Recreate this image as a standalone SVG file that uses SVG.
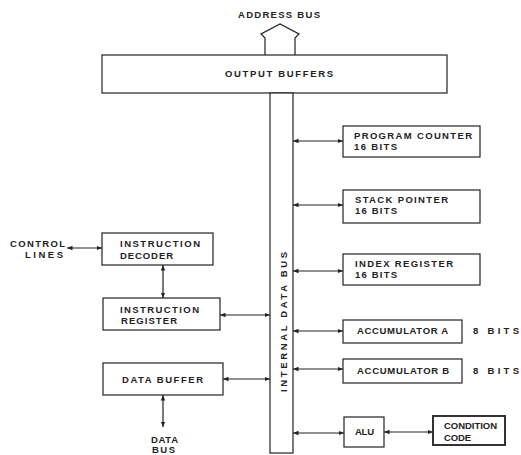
<svg xmlns="http://www.w3.org/2000/svg" width="521" height="455" viewBox="0 0 521 455">
<defs>
<marker id="ah" viewBox="0 0 10 10" refX="10" refY="5" markerWidth="5.5" markerHeight="5.5" orient="auto-start-reverse" markerUnits="userSpaceOnUse">
<path d="M0,1 L10,5 L0,9 Z" fill="#222"/>
</marker>
</defs>
<style>
.box{fill:#fff;stroke:#222;stroke-width:1.2}
.cc{fill:#fff;stroke:#333;stroke-width:2}
.ln{stroke:#222;stroke-width:1.2;fill:none;marker-start:url(#ah);marker-end:url(#ah)}
text{font-family:"Liberation Sans",Arial,sans-serif;font-size:9.5px;font-weight:bold;fill:#222}
</style>
<rect width="521" height="455" fill="#fff"/>
<g id="address-bus">
<path d="M265,55 V38 L261,34 L280,24 L299,34 L295,38 V55" class="box"/>
<text x="238" y="18" textLength="82" lengthAdjust="spacing">ADDRESS BUS</text>
</g>
<g id="output-buffers">
<rect x="102" y="55" width="345" height="38" class="box"/>
<text x="225" y="77" textLength="108" lengthAdjust="spacing">OUTPUT BUFFERS</text>
</g>
<g id="internal-data-bus">
<rect x="270" y="93" width="23" height="360" class="box"/>
<text transform="translate(287,322) rotate(-90)" text-anchor="middle" textLength="140" lengthAdjust="spacing">INTERNAL DATA BUS</text>
</g>
<g id="program-counter">
<rect x="343" y="126" width="137" height="31" class="box"/>
<text x="354" y="139" textLength="118" lengthAdjust="spacing">PROGRAM COUNTER</text>
<text x="354" y="150" textLength="43" lengthAdjust="spacing">16 BITS</text>
</g>
<g id="stack-pointer">
<rect x="343" y="190" width="137" height="33" class="box"/>
<text x="355" y="203" textLength="93" lengthAdjust="spacing">STACK POINTER</text>
<text x="355" y="214" textLength="42" lengthAdjust="spacing">16 BITS</text>
</g>
<g id="index-register">
<rect x="343" y="254" width="137" height="31" class="box"/>
<text x="355" y="267" textLength="98" lengthAdjust="spacing">INDEX REGISTER</text>
<text x="355" y="278" textLength="42" lengthAdjust="spacing">16 BITS</text>
</g>
<g id="accumulator-a">
<rect x="343" y="320" width="119" height="23" class="box"/>
<text x="357" y="334" textLength="91" lengthAdjust="spacing">ACCUMULATOR A</text>
<text x="473" y="334" textLength="46" lengthAdjust="spacing">8 BITS</text>
</g>
<g id="accumulator-b">
<rect x="343" y="359" width="119" height="24" class="box"/>
<text x="357" y="374" textLength="92" lengthAdjust="spacing">ACCUMULATOR B</text>
<text x="473" y="374" textLength="46" lengthAdjust="spacing">8 BITS</text>
</g>
<g id="alu">
<rect x="344" y="417" width="40" height="30" class="box"/>
<text x="355" y="435" textLength="19" lengthAdjust="spacing">ALU</text>
</g>
<g id="condition-code">
<rect x="433" y="416" width="72" height="29" class="cc"/>
<text x="444" y="429" textLength="53" lengthAdjust="spacing">CONDITION</text>
<text x="444" y="441" textLength="27" lengthAdjust="spacing">CODE</text>
</g>
<g id="control-lines">
<text x="10" y="247" textLength="55" lengthAdjust="spacing">CONTROL</text>
<text x="25" y="258" textLength="38" lengthAdjust="spacing">LINES</text>
</g>
<g id="instruction-decoder">
<rect x="102" y="233" width="111" height="32" class="box"/>
<text x="120" y="247" textLength="80" lengthAdjust="spacing">INSTRUCTION</text>
<text x="120" y="259" textLength="53" lengthAdjust="spacing">DECODER</text>
</g>
<g id="instruction-register">
<rect x="103" y="298" width="117" height="32" class="box"/>
<text x="120" y="313" textLength="79" lengthAdjust="spacing">INSTRUCTION</text>
<text x="121" y="324" textLength="56" lengthAdjust="spacing">REGISTER</text>
</g>
<g id="data-buffer">
<rect x="103" y="363" width="120" height="32" class="box"/>
<text x="122" y="383" textLength="81" lengthAdjust="spacing">DATA BUFFER</text>
</g>
<g id="data-bus">
<text x="151" y="443" textLength="27" lengthAdjust="spacing">DATA</text>
<text x="152" y="453" textLength="23" lengthAdjust="spacing">BUS</text>
</g>
<g id="connectors">
<line x1="293" y1="141" x2="343" y2="141" class="ln"/>
<line x1="293" y1="205" x2="343" y2="205" class="ln"/>
<line x1="293" y1="271" x2="343" y2="271" class="ln"/>
<line x1="293" y1="331" x2="343" y2="331" class="ln"/>
<line x1="293" y1="369" x2="343" y2="369" class="ln"/>
<line x1="293" y1="433" x2="344" y2="433" class="ln"/>
<line x1="384" y1="432" x2="433" y2="432" class="ln"/>
<line x1="67" y1="248" x2="102" y2="248" class="ln"/>
<line x1="163" y1="265" x2="163" y2="298" class="ln"/>
<line x1="220" y1="315" x2="270" y2="315" class="ln"/>
<line x1="223" y1="379" x2="270" y2="379" class="ln"/>
<line x1="163" y1="395" x2="163" y2="427" class="ln"/>
</g>
</svg>
